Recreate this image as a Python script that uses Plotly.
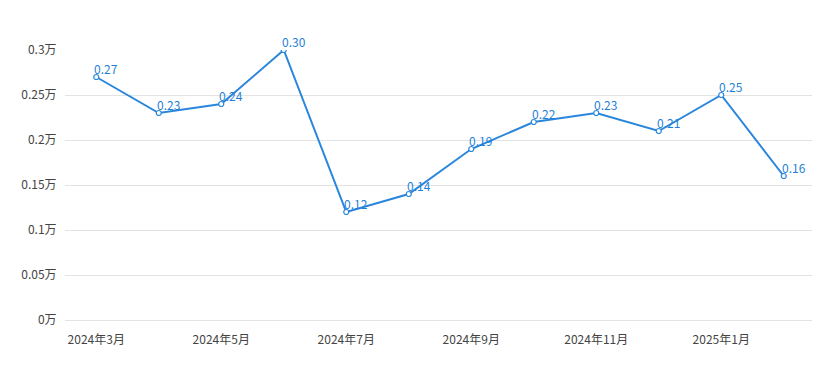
import plotly.graph_objects as go

months = ["2024年3月", "2024年4月", "2024年5月", "2024年6月", "2024年7月", "2024年8月",
          "2024年9月", "2024年10月", "2024年11月", "2024年12月", "2025年1月", "2025年2月"]
values = [0.27, 0.23, 0.24, 0.30, 0.12, 0.14, 0.19, 0.22, 0.23, 0.21, 0.25, 0.16]
x_tick_labels = ["2024年3月", "2024年5月", "2024年7月", "2024年9月", "2024年11月", "2025年1月"]
y_tick_vals = [0, 0.05, 0.1, 0.15, 0.2, 0.25, 0.3]
y_tick_text = ["0万", "0.05万", "0.1万", "0.15万", "0.2万", "0.25万", "0.3万"]

LINE = "#2a86dc"
FONT = "Noto Sans CJK SC, Noto Sans, sans-serif"

fig = go.Figure()
fig.add_trace(go.Scatter(
    x=months, y=values, mode="lines+markers",
    line=dict(color=LINE, width=2),
    marker=dict(symbol="circle", size=5, color="white", line=dict(color=LINE, width=1.2)),
    hoverinfo="skip", showlegend=False,
))

for m, v in zip(months, values):
    fig.add_annotation(x=m, y=v, text=f"{v:.2f}", showarrow=False,
                       xanchor="left", yanchor="bottom", xshift=-4, yshift=-2,
                       font=dict(family=FONT, size=12, color="#1f7fd8"))

fig.update_layout(
    width=812, height=362,
    margin=dict(l=57, r=5, t=42, b=50, autoexpand=False),
    paper_bgcolor="white", plot_bgcolor="white",
    font=dict(family=FONT, size=12, color="#444"),
)
fig.update_xaxes(
    type="category", categoryorder="array", categoryarray=months,
    range=[-0.5, len(months) - 0.5], automargin=False,
    tickmode="array", tickvals=x_tick_labels, ticktext=x_tick_labels,
    showgrid=False, showline=False, zeroline=False,
    ticks="outside", ticklen=9, tickcolor="rgba(0,0,0,0)",
    tickfont=dict(family=FONT, size=12, color="#444"),
)
fig.update_yaxes(
    range=[0, 0.3], tickmode="array", tickvals=y_tick_vals, ticktext=y_tick_text,
    automargin=False,
    showgrid=True, gridcolor="#e3e3e3", gridwidth=1,
    zeroline=True, zerolinecolor="#e3e3e3", zerolinewidth=1, showline=False,
    ticks="outside", ticklen=5, tickcolor="rgba(0,0,0,0)",
    tickfont=dict(family=FONT, size=12, color="#444"),
)

fig.write_html("out.html")
